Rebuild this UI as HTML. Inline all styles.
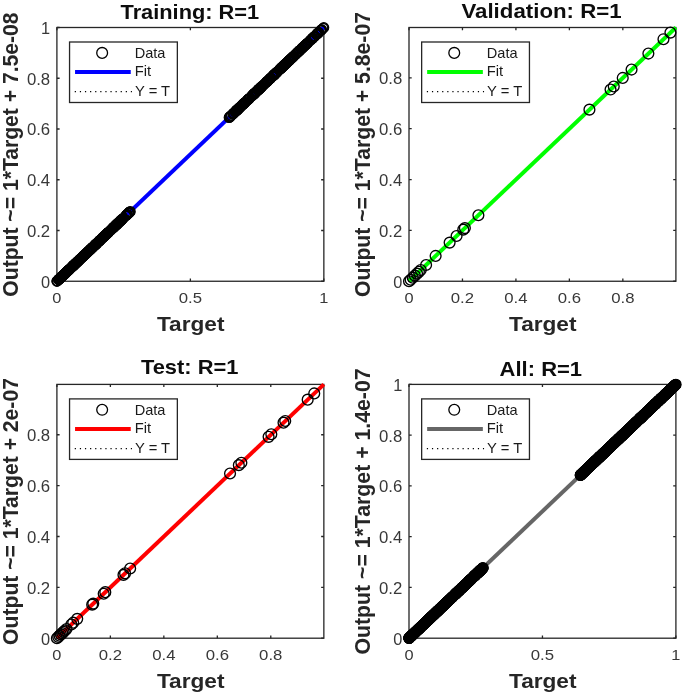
<!DOCTYPE html>
<html lang="en"><head><meta charset="utf-8"><title>Regression</title>
<style>
html,body{margin:0;padding:0;background:#fff;}
body{width:685px;height:695px;overflow:hidden;}
svg{display:block;filter:blur(0.4px);}
text{font-family:"Liberation Sans", sans-serif;}
.tk{font-size:16px;fill:#383838;}
.tx{font-size:15.2px;}
.lg{font-size:14.2px;fill:#1a1a1a;}
.bd{font-size:21px;font-weight:bold;fill:#262626;}
.tt{fill:#0d0d0d;}
.ax{stroke:#262626;stroke-width:1.3;fill:none;}
.mk{stroke:#000;stroke-width:1.5;fill:none;}
</style></head><body>
<svg width="685" height="695" viewBox="0 0 685 695">
<rect width="685" height="695" fill="#fff"/>
<g id="training">
<rect class="ax" x="56.9" y="27.5" width="266.95" height="253.75"/>
<path class="ax" d="M56.9 281.25v-2.7M56.9 27.5v2.7M190.38 281.25v-2.7M190.38 27.5v2.7M323.85 281.25v-2.7M323.85 27.5v2.7M56.9 281.25h2.7M323.85 281.25h-2.7M56.9 230.5h2.7M323.85 230.5h-2.7M56.9 179.75h2.7M323.85 179.75h-2.7M56.9 129h2.7M323.85 129h-2.7M56.9 78.25h2.7M323.85 78.25h-2.7M56.9 27.5h2.7M323.85 27.5h-2.7"/>
<text class="tk tx" x="56.9" y="302.95" text-anchor="middle" textLength="9.1" lengthAdjust="spacingAndGlyphs">0</text>
<text class="tk tx" x="190.38" y="302.95" text-anchor="middle" textLength="23.3" lengthAdjust="spacingAndGlyphs">0.5</text>
<text class="tk tx" x="323.85" y="302.95" text-anchor="middle" textLength="9.1" lengthAdjust="spacingAndGlyphs">1</text>
<text class="tk" x="50.2" y="287.65" text-anchor="end" textLength="9.1" lengthAdjust="spacingAndGlyphs">0</text>
<text class="tk" x="50.2" y="236.9" text-anchor="end" textLength="23.3" lengthAdjust="spacingAndGlyphs">0.2</text>
<text class="tk" x="50.2" y="186.15" text-anchor="end" textLength="23.3" lengthAdjust="spacingAndGlyphs">0.4</text>
<text class="tk" x="50.2" y="135.4" text-anchor="end" textLength="23.3" lengthAdjust="spacingAndGlyphs">0.6</text>
<text class="tk" x="50.2" y="84.65" text-anchor="end" textLength="23.3" lengthAdjust="spacingAndGlyphs">0.8</text>
<text class="tk" x="50.2" y="33.9" text-anchor="end" textLength="9.1" lengthAdjust="spacingAndGlyphs">1</text>
<text class="bd tt" x="189.88" y="19" text-anchor="middle" textLength="138.7" lengthAdjust="spacingAndGlyphs">Training: R=1</text>
<text class="bd" x="190.68" y="331.05" text-anchor="middle" textLength="67.5" lengthAdjust="spacingAndGlyphs">Target</text>
<text class="bd" transform="translate(17.9 154.57) scale(1.05 1) rotate(-90)" text-anchor="middle" textLength="284.3" lengthAdjust="spacingAndGlyphs">Output ~= 1*Target + 7.5e-08</text>
<line x1="56.9" y1="281.25" x2="323.85" y2="27.5" stroke="#000" stroke-width="1" stroke-dasharray="1 4"/>
<line x1="56.9" y1="281.25" x2="323.85" y2="27.5" stroke="#0000ff" stroke-width="4.0"/>
<g class="mk" stroke-width="1.5" style="stroke-width:1.5">
<circle cx="56.9" cy="281.25" r="4.7"/><circle cx="56.92" cy="281.23" r="4.7"/><circle cx="57.2" cy="280.96" r="4.7"/><circle cx="58.56" cy="279.68" r="4.7"/><circle cx="58.6" cy="279.64" r="4.7"/><circle cx="58.77" cy="279.47" r="4.7"/><circle cx="58.89" cy="279.36" r="4.7"/><circle cx="58.95" cy="279.3" r="4.7"/><circle cx="59.03" cy="279.23" r="4.7"/><circle cx="59.65" cy="278.63" r="4.7"/><circle cx="59.78" cy="278.51" r="4.7"/><circle cx="60.32" cy="278" r="4.7"/><circle cx="60.76" cy="277.58" r="4.7"/><circle cx="60.86" cy="277.48" r="4.7"/><circle cx="61.16" cy="277.2" r="4.7"/><circle cx="61.23" cy="277.14" r="4.7"/><circle cx="61.28" cy="277.09" r="4.7"/><circle cx="61.35" cy="277.02" r="4.7"/><circle cx="61.47" cy="276.91" r="4.7"/><circle cx="61.51" cy="276.87" r="4.7"/><circle cx="61.84" cy="276.55" r="4.7"/><circle cx="62.03" cy="276.38" r="4.7"/><circle cx="62.22" cy="276.2" r="4.7"/><circle cx="62.82" cy="275.63" r="4.7"/><circle cx="63.2" cy="275.26" r="4.7"/><circle cx="63.56" cy="274.92" r="4.7"/><circle cx="64.35" cy="274.17" r="4.7"/><circle cx="64.4" cy="274.12" r="4.7"/><circle cx="64.5" cy="274.03" r="4.7"/><circle cx="65.5" cy="273.08" r="4.7"/><circle cx="65.55" cy="273.03" r="4.7"/><circle cx="65.57" cy="273.01" r="4.7"/><circle cx="65.92" cy="272.68" r="4.7"/><circle cx="65.99" cy="272.61" r="4.7"/><circle cx="66.4" cy="272.22" r="4.7"/><circle cx="67.49" cy="271.18" r="4.7"/><circle cx="67.66" cy="271.02" r="4.7"/><circle cx="67.81" cy="270.88" r="4.7"/><circle cx="67.97" cy="270.72" r="4.7"/><circle cx="67.98" cy="270.72" r="4.7"/><circle cx="68" cy="270.69" r="4.7"/><circle cx="68.06" cy="270.64" r="4.7"/><circle cx="68.75" cy="269.98" r="4.7"/><circle cx="68.81" cy="269.92" r="4.7"/><circle cx="69.16" cy="269.59" r="4.7"/><circle cx="69.24" cy="269.52" r="4.7"/><circle cx="69.84" cy="268.95" r="4.7"/><circle cx="70.17" cy="268.64" r="4.7"/><circle cx="71.34" cy="267.52" r="4.7"/><circle cx="71.9" cy="266.99" r="4.7"/><circle cx="72.02" cy="266.88" r="4.7"/><circle cx="72.23" cy="266.68" r="4.7"/><circle cx="73.08" cy="265.87" r="4.7"/><circle cx="73.27" cy="265.69" r="4.7"/><circle cx="73.29" cy="265.67" r="4.7"/><circle cx="73.55" cy="265.43" r="4.7"/><circle cx="73.55" cy="265.42" r="4.7"/><circle cx="73.93" cy="265.06" r="4.7"/><circle cx="74.03" cy="264.97" r="4.7"/><circle cx="74.82" cy="264.22" r="4.7"/><circle cx="75.08" cy="263.97" r="4.7"/><circle cx="75.42" cy="263.65" r="4.7"/><circle cx="75.93" cy="263.16" r="4.7"/><circle cx="76.07" cy="263.03" r="4.7"/><circle cx="76.19" cy="262.92" r="4.7"/><circle cx="76.34" cy="262.77" r="4.7"/><circle cx="77.34" cy="261.82" r="4.7"/><circle cx="77.41" cy="261.75" r="4.7"/><circle cx="77.79" cy="261.39" r="4.7"/><circle cx="78.04" cy="261.16" r="4.7"/><circle cx="78.16" cy="261.04" r="4.7"/><circle cx="78.91" cy="260.33" r="4.7"/><circle cx="79.55" cy="259.72" r="4.7"/><circle cx="79.93" cy="259.36" r="4.7"/><circle cx="79.96" cy="259.33" r="4.7"/><circle cx="80.67" cy="258.65" r="4.7"/><circle cx="81.1" cy="258.25" r="4.7"/><circle cx="81.86" cy="257.52" r="4.7"/><circle cx="82.05" cy="257.34" r="4.7"/><circle cx="82.4" cy="257.01" r="4.7"/><circle cx="83" cy="256.44" r="4.7"/><circle cx="83.24" cy="256.21" r="4.7"/><circle cx="83.59" cy="255.88" r="4.7"/><circle cx="83.63" cy="255.84" r="4.7"/><circle cx="83.67" cy="255.81" r="4.7"/><circle cx="83.75" cy="255.73" r="4.7"/><circle cx="83.82" cy="255.66" r="4.7"/><circle cx="84.01" cy="255.48" r="4.7"/><circle cx="84.24" cy="255.26" r="4.7"/><circle cx="85.22" cy="254.33" r="4.7"/><circle cx="85.6" cy="253.97" r="4.7"/><circle cx="85.71" cy="253.87" r="4.7"/><circle cx="86.02" cy="253.57" r="4.7"/><circle cx="86.19" cy="253.41" r="4.7"/><circle cx="87.39" cy="252.27" r="4.7"/><circle cx="87.59" cy="252.07" r="4.7"/><circle cx="87.66" cy="252.02" r="4.7"/><circle cx="88.06" cy="251.63" r="4.7"/><circle cx="88.29" cy="251.41" r="4.7"/><circle cx="88.73" cy="250.99" r="4.7"/><circle cx="89.73" cy="250.04" r="4.7"/><circle cx="89.88" cy="249.91" r="4.7"/><circle cx="90.17" cy="249.63" r="4.7"/><circle cx="90.39" cy="249.42" r="4.7"/><circle cx="90.79" cy="249.03" r="4.7"/><circle cx="91.11" cy="248.73" r="4.7"/><circle cx="91.7" cy="248.17" r="4.7"/><circle cx="92.1" cy="247.79" r="4.7"/><circle cx="92.42" cy="247.49" r="4.7"/><circle cx="92.5" cy="247.41" r="4.7"/><circle cx="92.8" cy="247.13" r="4.7"/><circle cx="94.15" cy="245.84" r="4.7"/><circle cx="94.74" cy="245.28" r="4.7"/><circle cx="94.9" cy="245.13" r="4.7"/><circle cx="95.46" cy="244.6" r="4.7"/><circle cx="95.67" cy="244.4" r="4.7"/><circle cx="95.68" cy="244.39" r="4.7"/><circle cx="96" cy="244.09" r="4.7"/><circle cx="96.24" cy="243.86" r="4.7"/><circle cx="96.77" cy="243.35" r="4.7"/><circle cx="97.11" cy="243.03" r="4.7"/><circle cx="97.24" cy="242.91" r="4.7"/><circle cx="98.48" cy="241.73" r="4.7"/><circle cx="98.97" cy="241.26" r="4.7"/><circle cx="99.07" cy="241.17" r="4.7"/><circle cx="99.27" cy="240.98" r="4.7"/><circle cx="99.47" cy="240.78" r="4.7"/><circle cx="99.6" cy="240.67" r="4.7"/><circle cx="99.89" cy="240.39" r="4.7"/><circle cx="100.15" cy="240.14" r="4.7"/><circle cx="100.53" cy="239.77" r="4.7"/><circle cx="101.98" cy="238.4" r="4.7"/><circle cx="102.24" cy="238.15" r="4.7"/><circle cx="102.71" cy="237.7" r="4.7"/><circle cx="102.96" cy="237.47" r="4.7"/><circle cx="103.46" cy="236.99" r="4.7"/><circle cx="103.8" cy="236.67" r="4.7"/><circle cx="104.41" cy="236.09" r="4.7"/><circle cx="104.69" cy="235.83" r="4.7"/><circle cx="104.84" cy="235.68" r="4.7"/><circle cx="105.66" cy="234.9" r="4.7"/><circle cx="105.95" cy="234.62" r="4.7"/><circle cx="105.99" cy="234.59" r="4.7"/><circle cx="106.54" cy="234.06" r="4.7"/><circle cx="106.85" cy="233.77" r="4.7"/><circle cx="107.59" cy="233.07" r="4.7"/><circle cx="107.74" cy="232.92" r="4.7"/><circle cx="107.94" cy="232.73" r="4.7"/><circle cx="108.01" cy="232.67" r="4.7"/><circle cx="108.21" cy="232.47" r="4.7"/><circle cx="108.4" cy="232.3" r="4.7"/><circle cx="110.45" cy="230.35" r="4.7"/><circle cx="111.22" cy="229.62" r="4.7"/><circle cx="112.48" cy="228.42" r="4.7"/><circle cx="113.03" cy="227.9" r="4.7"/><circle cx="113.3" cy="227.64" r="4.7"/><circle cx="113.57" cy="227.38" r="4.7"/><circle cx="114.09" cy="226.89" r="4.7"/><circle cx="114.16" cy="226.82" r="4.7"/><circle cx="115.22" cy="225.82" r="4.7"/><circle cx="115.47" cy="225.57" r="4.7"/><circle cx="115.6" cy="225.45" r="4.7"/><circle cx="116.08" cy="225" r="4.7"/><circle cx="116.47" cy="224.62" r="4.7"/><circle cx="116.81" cy="224.3" r="4.7"/><circle cx="116.97" cy="224.15" r="4.7"/><circle cx="117.04" cy="224.08" r="4.7"/><circle cx="117.24" cy="223.9" r="4.7"/><circle cx="117.6" cy="223.55" r="4.7"/><circle cx="117.75" cy="223.41" r="4.7"/><circle cx="118.56" cy="222.64" r="4.7"/><circle cx="118.6" cy="222.6" r="4.7"/><circle cx="119.22" cy="222.01" r="4.7"/><circle cx="119.49" cy="221.75" r="4.7"/><circle cx="119.92" cy="221.34" r="4.7"/><circle cx="120.28" cy="221.01" r="4.7"/><circle cx="120.33" cy="220.96" r="4.7"/><circle cx="120.87" cy="220.44" r="4.7"/><circle cx="121.09" cy="220.24" r="4.7"/><circle cx="121.1" cy="220.23" r="4.7"/><circle cx="121.14" cy="220.18" r="4.7"/><circle cx="121.17" cy="220.16" r="4.7"/><circle cx="121.75" cy="219.61" r="4.7"/><circle cx="121.81" cy="219.55" r="4.7"/><circle cx="122.94" cy="218.48" r="4.7"/><circle cx="122.99" cy="218.43" r="4.7"/><circle cx="125.69" cy="215.86" r="4.7"/><circle cx="126.25" cy="215.33" r="4.7"/><circle cx="126.47" cy="215.12" r="4.7"/><circle cx="126.71" cy="214.89" r="4.7"/><circle cx="126.87" cy="214.74" r="4.7"/><circle cx="127.01" cy="214.61" r="4.7"/><circle cx="127.12" cy="214.5" r="4.7"/><circle cx="127.21" cy="214.42" r="4.7"/><circle cx="128.57" cy="213.13" r="4.7"/><circle cx="128.73" cy="212.97" r="4.7"/><circle cx="128.86" cy="212.85" r="4.7"/><circle cx="129.2" cy="212.52" r="4.7"/><circle cx="129.43" cy="212.3" r="4.7"/><circle cx="129.8" cy="211.95" r="4.7"/><circle cx="129.8" cy="211.95" r="4.7"/><circle cx="130.31" cy="211.47" r="4.7"/><circle cx="229.08" cy="117.58" r="4.7"/><circle cx="229.31" cy="117.37" r="4.7"/><circle cx="229.9" cy="116.8" r="4.7"/><circle cx="230.12" cy="116.59" r="4.7"/><circle cx="230.16" cy="116.56" r="4.7"/><circle cx="230.2" cy="116.52" r="4.7"/><circle cx="231.35" cy="115.42" r="4.7"/><circle cx="232.77" cy="114.07" r="4.7"/><circle cx="233.25" cy="113.62" r="4.7"/><circle cx="233.28" cy="113.59" r="4.7"/><circle cx="233.95" cy="112.96" r="4.7"/><circle cx="235.1" cy="111.86" r="4.7"/><circle cx="235.17" cy="111.79" r="4.7"/><circle cx="236.06" cy="110.95" r="4.7"/><circle cx="236.37" cy="110.65" r="4.7"/><circle cx="236.52" cy="110.51" r="4.7"/><circle cx="236.6" cy="110.44" r="4.7"/><circle cx="236.61" cy="110.43" r="4.7"/><circle cx="236.95" cy="110.1" r="4.7"/><circle cx="237.29" cy="109.78" r="4.7"/><circle cx="237.47" cy="109.61" r="4.7"/><circle cx="237.76" cy="109.34" r="4.7"/><circle cx="237.95" cy="109.16" r="4.7"/><circle cx="238.35" cy="108.77" r="4.7"/><circle cx="238.84" cy="108.31" r="4.7"/><circle cx="238.97" cy="108.18" r="4.7"/><circle cx="239.33" cy="107.84" r="4.7"/><circle cx="239.59" cy="107.59" r="4.7"/><circle cx="240.32" cy="106.9" r="4.7"/><circle cx="241.2" cy="106.07" r="4.7"/><circle cx="241.69" cy="105.6" r="4.7"/><circle cx="242.89" cy="104.46" r="4.7"/><circle cx="242.89" cy="104.45" r="4.7"/><circle cx="243.34" cy="104.02" r="4.7"/><circle cx="243.54" cy="103.84" r="4.7"/><circle cx="243.93" cy="103.47" r="4.7"/><circle cx="243.97" cy="103.43" r="4.7"/><circle cx="243.98" cy="103.42" r="4.7"/><circle cx="244.32" cy="103.09" r="4.7"/><circle cx="244.6" cy="102.83" r="4.7"/><circle cx="244.98" cy="102.47" r="4.7"/><circle cx="245.9" cy="101.6" r="4.7"/><circle cx="247.36" cy="100.2" r="4.7"/><circle cx="247.79" cy="99.8" r="4.7"/><circle cx="248.11" cy="99.5" r="4.7"/><circle cx="248.17" cy="99.44" r="4.7"/><circle cx="248.55" cy="99.08" r="4.7"/><circle cx="249.19" cy="98.46" r="4.7"/><circle cx="249.39" cy="98.28" r="4.7"/><circle cx="251.8" cy="95.99" r="4.7"/><circle cx="251.94" cy="95.85" r="4.7"/><circle cx="252.12" cy="95.68" r="4.7"/><circle cx="253.13" cy="94.72" r="4.7"/><circle cx="253.22" cy="94.63" r="4.7"/><circle cx="253.32" cy="94.54" r="4.7"/><circle cx="253.85" cy="94.04" r="4.7"/><circle cx="253.98" cy="93.91" r="4.7"/><circle cx="254.34" cy="93.57" r="4.7"/><circle cx="254.36" cy="93.55" r="4.7"/><circle cx="254.46" cy="93.46" r="4.7"/><circle cx="254.52" cy="93.4" r="4.7"/><circle cx="255.04" cy="92.9" r="4.7"/><circle cx="255.38" cy="92.59" r="4.7"/><circle cx="256.26" cy="91.75" r="4.7"/><circle cx="256.52" cy="91.5" r="4.7"/><circle cx="256.52" cy="91.5" r="4.7"/><circle cx="257.05" cy="91" r="4.7"/><circle cx="257.87" cy="90.21" r="4.7"/><circle cx="258.1" cy="90" r="4.7"/><circle cx="258.22" cy="89.88" r="4.7"/><circle cx="258.48" cy="89.64" r="4.7"/><circle cx="258.48" cy="89.63" r="4.7"/><circle cx="258.68" cy="89.45" r="4.7"/><circle cx="258.83" cy="89.3" r="4.7"/><circle cx="259.13" cy="89.02" r="4.7"/><circle cx="259.31" cy="88.85" r="4.7"/><circle cx="259.61" cy="88.57" r="4.7"/><circle cx="259.69" cy="88.49" r="4.7"/><circle cx="260.57" cy="87.65" r="4.7"/><circle cx="260.88" cy="87.35" r="4.7"/><circle cx="260.96" cy="87.28" r="4.7"/><circle cx="261.02" cy="87.22" r="4.7"/><circle cx="261.2" cy="87.06" r="4.7"/><circle cx="261.24" cy="87.01" r="4.7"/><circle cx="261.32" cy="86.94" r="4.7"/><circle cx="262.56" cy="85.76" r="4.7"/><circle cx="262.74" cy="85.59" r="4.7"/><circle cx="264.24" cy="84.16" r="4.7"/><circle cx="264.89" cy="83.54" r="4.7"/><circle cx="266.37" cy="82.14" r="4.7"/><circle cx="266.81" cy="81.72" r="4.7"/><circle cx="266.98" cy="81.56" r="4.7"/><circle cx="267" cy="81.54" r="4.7"/><circle cx="267.51" cy="81.06" r="4.7"/><circle cx="268.84" cy="79.79" r="4.7"/><circle cx="269.21" cy="79.43" r="4.7"/><circle cx="270.18" cy="78.51" r="4.7"/><circle cx="270.53" cy="78.18" r="4.7"/><circle cx="270.68" cy="78.04" r="4.7"/><circle cx="270.7" cy="78.02" r="4.7"/><circle cx="272.14" cy="76.66" r="4.7"/><circle cx="272.7" cy="76.12" r="4.7"/><circle cx="273.41" cy="75.45" r="4.7"/><circle cx="273.79" cy="75.08" r="4.7"/><circle cx="273.98" cy="74.9" r="4.7"/><circle cx="274.08" cy="74.81" r="4.7"/><circle cx="274.1" cy="74.79" r="4.7"/><circle cx="274.33" cy="74.57" r="4.7"/><circle cx="274.37" cy="74.53" r="4.7"/><circle cx="274.95" cy="73.98" r="4.7"/><circle cx="275.05" cy="73.89" r="4.7"/><circle cx="275.37" cy="73.58" r="4.7"/><circle cx="276.09" cy="72.9" r="4.7"/><circle cx="276.5" cy="72.51" r="4.7"/><circle cx="276.52" cy="72.49" r="4.7"/><circle cx="276.86" cy="72.17" r="4.7"/><circle cx="277.29" cy="71.75" r="4.7"/><circle cx="279.12" cy="70.02" r="4.7"/><circle cx="279.39" cy="69.76" r="4.7"/><circle cx="279.75" cy="69.42" r="4.7"/><circle cx="280.57" cy="68.64" r="4.7"/><circle cx="280.98" cy="68.25" r="4.7"/><circle cx="281.02" cy="68.22" r="4.7"/><circle cx="281.3" cy="67.95" r="4.7"/><circle cx="281.31" cy="67.93" r="4.7"/><circle cx="281.39" cy="67.86" r="4.7"/><circle cx="281.45" cy="67.8" r="4.7"/><circle cx="281.75" cy="67.51" r="4.7"/><circle cx="282.67" cy="66.65" r="4.7"/><circle cx="283.12" cy="66.22" r="4.7"/><circle cx="283.16" cy="66.18" r="4.7"/><circle cx="283.22" cy="66.12" r="4.7"/><circle cx="283.42" cy="65.93" r="4.7"/><circle cx="283.75" cy="65.62" r="4.7"/><circle cx="284.61" cy="64.8" r="4.7"/><circle cx="284.81" cy="64.61" r="4.7"/><circle cx="284.85" cy="64.57" r="4.7"/><circle cx="284.85" cy="64.57" r="4.7"/><circle cx="285.35" cy="64.1" r="4.7"/><circle cx="285.62" cy="63.84" r="4.7"/><circle cx="285.9" cy="63.58" r="4.7"/><circle cx="286.48" cy="63.03" r="4.7"/><circle cx="286.48" cy="63.03" r="4.7"/><circle cx="287.05" cy="62.48" r="4.7"/><circle cx="287.16" cy="62.38" r="4.7"/><circle cx="288.36" cy="61.24" r="4.7"/><circle cx="288.51" cy="61.09" r="4.7"/><circle cx="288.63" cy="60.98" r="4.7"/><circle cx="288.97" cy="60.66" r="4.7"/><circle cx="289.12" cy="60.51" r="4.7"/><circle cx="289.18" cy="60.45" r="4.7"/><circle cx="289.61" cy="60.05" r="4.7"/><circle cx="289.82" cy="59.85" r="4.7"/><circle cx="290.45" cy="59.25" r="4.7"/><circle cx="290.57" cy="59.14" r="4.7"/><circle cx="291.31" cy="58.43" r="4.7"/><circle cx="291.33" cy="58.41" r="4.7"/><circle cx="292.06" cy="57.72" r="4.7"/><circle cx="292.51" cy="57.29" r="4.7"/><circle cx="293.13" cy="56.71" r="4.7"/><circle cx="293.56" cy="56.29" r="4.7"/><circle cx="294.02" cy="55.86" r="4.7"/><circle cx="295.39" cy="54.55" r="4.7"/><circle cx="295.84" cy="54.13" r="4.7"/><circle cx="296.49" cy="53.51" r="4.7"/><circle cx="297.31" cy="52.72" r="4.7"/><circle cx="297.88" cy="52.19" r="4.7"/><circle cx="298.14" cy="51.94" r="4.7"/><circle cx="299.15" cy="50.98" r="4.7"/><circle cx="299.28" cy="50.85" r="4.7"/><circle cx="299.45" cy="50.7" r="4.7"/><circle cx="299.47" cy="50.68" r="4.7"/><circle cx="301.17" cy="49.06" r="4.7"/><circle cx="301.6" cy="48.65" r="4.7"/><circle cx="302.37" cy="47.92" r="4.7"/><circle cx="302.63" cy="47.67" r="4.7"/><circle cx="303.44" cy="46.9" r="4.7"/><circle cx="304.22" cy="46.16" r="4.7"/><circle cx="304.98" cy="45.44" r="4.7"/><circle cx="305.17" cy="45.26" r="4.7"/><circle cx="305.41" cy="45.02" r="4.7"/><circle cx="306.17" cy="44.31" r="4.7"/><circle cx="307.07" cy="43.45" r="4.7"/><circle cx="307.15" cy="43.38" r="4.7"/><circle cx="307.8" cy="42.75" r="4.7"/><circle cx="310.19" cy="40.49" r="4.7"/><circle cx="310.25" cy="40.43" r="4.7"/><circle cx="312.18" cy="38.59" r="4.7"/><circle cx="312.2" cy="38.58" r="4.7"/><circle cx="312.65" cy="38.14" r="4.7"/><circle cx="312.89" cy="37.92" r="4.7"/><circle cx="313.87" cy="36.98" r="4.7"/><circle cx="314.17" cy="36.7" r="4.7"/><circle cx="314.86" cy="36.04" r="4.7"/><circle cx="316.44" cy="34.55" r="4.7"/><circle cx="317.08" cy="33.93" r="4.7"/><circle cx="317.58" cy="33.46" r="4.7"/><circle cx="317.67" cy="33.38" r="4.7"/><circle cx="318.48" cy="32.61" r="4.7"/><circle cx="318.72" cy="32.37" r="4.7"/><circle cx="320.83" cy="30.37" r="4.7"/><circle cx="321.11" cy="30.11" r="4.7"/><circle cx="321.41" cy="29.82" r="4.7"/><circle cx="321.55" cy="29.69" r="4.7"/><circle cx="323.19" cy="28.12" r="4.7"/><circle cx="323.85" cy="27.5" r="4.7"/>
</g>
<g transform="translate(69.55 42)">
<rect class="ax" x="0" y="0" width="107.8" height="60.5" fill="#fff" style="fill:#fff"/>
<circle class="mk" cx="32.6" cy="10.9" r="5.4" style="stroke-width:1.3"/>
<line x1="5.5" y1="30.1" x2="61.2" y2="30.1" stroke="#0000ff" stroke-width="4.0"/>
<line x1="5.2" y1="49.7" x2="62.4" y2="49.7" stroke="#000" stroke-width="1.2" stroke-dasharray="1.2 3.9"/>
<text class="lg" x="65.1" y="15.8" textLength="30.8" lengthAdjust="spacingAndGlyphs">Data</text>
<text class="lg" x="65.1" y="34.3" textLength="16.4" lengthAdjust="spacingAndGlyphs">Fit</text>
<text class="lg" x="65.4" y="54.2" textLength="35.2" lengthAdjust="spacingAndGlyphs">Y = T</text>
</g>
</g>
<g id="validation">
<rect class="ax" x="409" y="27.5" width="266.9" height="253.75"/>
<path class="ax" d="M409 281.25v-2.7M409 27.5v2.7M462.46 281.25v-2.7M462.46 27.5v2.7M515.92 281.25v-2.7M515.92 27.5v2.7M569.38 281.25v-2.7M569.38 27.5v2.7M622.84 281.25v-2.7M622.84 27.5v2.7M409 281.25h2.7M675.9 281.25h-2.7M409 230.4h2.7M675.9 230.4h-2.7M409 179.55h2.7M675.9 179.55h-2.7M409 128.69h2.7M675.9 128.69h-2.7M409 77.84h2.7M675.9 77.84h-2.7"/>
<text class="tk tx" x="409" y="302.95" text-anchor="middle" textLength="9.1" lengthAdjust="spacingAndGlyphs">0</text>
<text class="tk tx" x="462.46" y="302.95" text-anchor="middle" textLength="23.3" lengthAdjust="spacingAndGlyphs">0.2</text>
<text class="tk tx" x="515.92" y="302.95" text-anchor="middle" textLength="23.3" lengthAdjust="spacingAndGlyphs">0.4</text>
<text class="tk tx" x="569.38" y="302.95" text-anchor="middle" textLength="23.3" lengthAdjust="spacingAndGlyphs">0.6</text>
<text class="tk tx" x="622.84" y="302.95" text-anchor="middle" textLength="23.3" lengthAdjust="spacingAndGlyphs">0.8</text>
<text class="tk" x="402.3" y="287.65" text-anchor="end" textLength="9.1" lengthAdjust="spacingAndGlyphs">0</text>
<text class="tk" x="402.3" y="236.8" text-anchor="end" textLength="23.3" lengthAdjust="spacingAndGlyphs">0.2</text>
<text class="tk" x="402.3" y="185.95" text-anchor="end" textLength="23.3" lengthAdjust="spacingAndGlyphs">0.4</text>
<text class="tk" x="402.3" y="135.09" text-anchor="end" textLength="23.3" lengthAdjust="spacingAndGlyphs">0.6</text>
<text class="tk" x="402.3" y="84.24" text-anchor="end" textLength="23.3" lengthAdjust="spacingAndGlyphs">0.8</text>
<text class="bd tt" x="541.55" y="17.7" text-anchor="middle" textLength="160.2" lengthAdjust="spacingAndGlyphs">Validation: R=1</text>
<text class="bd" x="542.75" y="331.05" text-anchor="middle" textLength="67.5" lengthAdjust="spacingAndGlyphs">Target</text>
<text class="bd" transform="translate(370 154.57) scale(1.05 1) rotate(-90)" text-anchor="middle" textLength="285" lengthAdjust="spacingAndGlyphs">Output ~= 1*Target + 5.8e-07</text>
<line x1="409" y1="281.25" x2="675.9" y2="27.5" stroke="#000" stroke-width="1" stroke-dasharray="1 4"/>
<line x1="409" y1="281.25" x2="675.9" y2="27.5" stroke="#00ff00" stroke-width="4.0"/>
<g class="mk" stroke-width="1.35" style="stroke-width:1.35">
<circle cx="409" cy="281.25" r="5.4"/><circle cx="410.6" cy="279.72" r="5.4"/><circle cx="412.74" cy="277.69" r="5.4"/><circle cx="414.88" cy="275.66" r="5.4"/><circle cx="417.02" cy="273.62" r="5.4"/><circle cx="418.89" cy="271.84" r="5.4"/><circle cx="420.76" cy="270.06" r="5.4"/><circle cx="426.11" cy="264.98" r="5.4"/><circle cx="435.62" cy="255.93" r="5.4"/><circle cx="449.63" cy="242.6" r="5.4"/><circle cx="456.58" cy="235.99" r="5.4"/><circle cx="463.26" cy="229.64" r="5.4"/><circle cx="464.87" cy="228.11" r="5.4"/><circle cx="478.39" cy="215.24" r="5.4"/><circle cx="589.43" cy="109.63" r="5.4"/><circle cx="610.54" cy="89.54" r="5.4"/><circle cx="613.75" cy="86.49" r="5.4"/><circle cx="622.73" cy="77.94" r="5.4"/><circle cx="631.55" cy="69.55" r="5.4"/><circle cx="648.37" cy="53.56" r="5.4"/><circle cx="663.47" cy="39.2" r="5.4"/><circle cx="670.42" cy="32.59" r="5.4"/>
</g>
<g transform="translate(421.65 42)">
<rect class="ax" x="0" y="0" width="107.8" height="60.5" fill="#fff" style="fill:#fff"/>
<circle class="mk" cx="32.6" cy="10.9" r="5.4" style="stroke-width:1.3"/>
<line x1="5.5" y1="30.1" x2="61.2" y2="30.1" stroke="#00ff00" stroke-width="4.0"/>
<line x1="5.2" y1="49.7" x2="62.4" y2="49.7" stroke="#000" stroke-width="1.2" stroke-dasharray="1.2 3.9"/>
<text class="lg" x="65.1" y="15.8" textLength="30.8" lengthAdjust="spacingAndGlyphs">Data</text>
<text class="lg" x="65.1" y="34.3" textLength="16.4" lengthAdjust="spacingAndGlyphs">Fit</text>
<text class="lg" x="65.4" y="54.2" textLength="35.2" lengthAdjust="spacingAndGlyphs">Y = T</text>
</g>
</g>
<g id="test">
<rect class="ax" x="56.9" y="384.4" width="266.95" height="253.8"/>
<path class="ax" d="M56.9 638.2v-2.7M56.9 384.4v2.7M110.37 638.2v-2.7M110.37 384.4v2.7M163.84 638.2v-2.7M163.84 384.4v2.7M217.31 638.2v-2.7M217.31 384.4v2.7M270.78 638.2v-2.7M270.78 384.4v2.7M56.9 638.2h2.7M323.85 638.2h-2.7M56.9 587.34h2.7M323.85 587.34h-2.7M56.9 536.48h2.7M323.85 536.48h-2.7M56.9 485.61h2.7M323.85 485.61h-2.7M56.9 434.75h2.7M323.85 434.75h-2.7"/>
<text class="tk tx" x="56.9" y="659.9" text-anchor="middle" textLength="9.1" lengthAdjust="spacingAndGlyphs">0</text>
<text class="tk tx" x="110.37" y="659.9" text-anchor="middle" textLength="23.3" lengthAdjust="spacingAndGlyphs">0.2</text>
<text class="tk tx" x="163.84" y="659.9" text-anchor="middle" textLength="23.3" lengthAdjust="spacingAndGlyphs">0.4</text>
<text class="tk tx" x="217.31" y="659.9" text-anchor="middle" textLength="23.3" lengthAdjust="spacingAndGlyphs">0.6</text>
<text class="tk tx" x="270.78" y="659.9" text-anchor="middle" textLength="23.3" lengthAdjust="spacingAndGlyphs">0.8</text>
<text class="tk" x="50.2" y="644.6" text-anchor="end" textLength="9.1" lengthAdjust="spacingAndGlyphs">0</text>
<text class="tk" x="50.2" y="593.74" text-anchor="end" textLength="23.3" lengthAdjust="spacingAndGlyphs">0.2</text>
<text class="tk" x="50.2" y="542.88" text-anchor="end" textLength="23.3" lengthAdjust="spacingAndGlyphs">0.4</text>
<text class="tk" x="50.2" y="492.01" text-anchor="end" textLength="23.3" lengthAdjust="spacingAndGlyphs">0.6</text>
<text class="tk" x="50.2" y="441.15" text-anchor="end" textLength="23.3" lengthAdjust="spacingAndGlyphs">0.8</text>
<text class="bd tt" x="189.68" y="374.3" text-anchor="middle" textLength="97.5" lengthAdjust="spacingAndGlyphs">Test: R=1</text>
<text class="bd" x="190.68" y="688" text-anchor="middle" textLength="67.5" lengthAdjust="spacingAndGlyphs">Target</text>
<text class="bd" transform="translate(17.9 511.5) scale(1.05 1) rotate(-90)" text-anchor="middle" textLength="266.8" lengthAdjust="spacingAndGlyphs">Output ~= 1*Target + 2e-07</text>
<line x1="56.9" y1="638.2" x2="323.85" y2="384.4" stroke="#000" stroke-width="1" stroke-dasharray="1 4"/>
<line x1="56.9" y1="638.2" x2="323.85" y2="384.4" stroke="#ff0000" stroke-width="4.0"/>
<g class="mk" stroke-width="1.35" style="stroke-width:1.35">
<circle cx="56.9" cy="638.2" r="5.4"/><circle cx="58.24" cy="636.93" r="5.4"/><circle cx="59.57" cy="635.66" r="5.4"/><circle cx="60.91" cy="634.39" r="5.4"/><circle cx="62.25" cy="633.11" r="5.4"/><circle cx="63.58" cy="631.84" r="5.4"/><circle cx="64.92" cy="630.57" r="5.4"/><circle cx="66.52" cy="629.04" r="5.4"/><circle cx="71.34" cy="624.47" r="5.4"/><circle cx="73.21" cy="622.69" r="5.4"/><circle cx="77.22" cy="618.87" r="5.4"/><circle cx="92.19" cy="604.63" r="5.4"/><circle cx="93.26" cy="603.61" r="5.4"/><circle cx="103.69" cy="593.7" r="5.4"/><circle cx="105.29" cy="592.17" r="5.4"/><circle cx="123.47" cy="574.88" r="5.4"/><circle cx="125.07" cy="573.35" r="5.4"/><circle cx="130.15" cy="568.52" r="5.4"/><circle cx="230.04" cy="473.51" r="5.4"/><circle cx="238.83" cy="465.14" r="5.4"/><circle cx="241.37" cy="462.73" r="5.4"/><circle cx="268.59" cy="436.84" r="5.4"/><circle cx="271.32" cy="434.24" r="5.4"/><circle cx="283.51" cy="422.65" r="5.4"/><circle cx="285.22" cy="421.02" r="5.4"/><circle cx="307.68" cy="399.66" r="5.4"/><circle cx="314.23" cy="393.43" r="5.4"/>
</g>
<g transform="translate(69.55 398.9)">
<rect class="ax" x="0" y="0" width="107.8" height="60.5" fill="#fff" style="fill:#fff"/>
<circle class="mk" cx="32.6" cy="10.9" r="5.4" style="stroke-width:1.3"/>
<line x1="5.5" y1="30.1" x2="61.2" y2="30.1" stroke="#ff0000" stroke-width="4.0"/>
<line x1="5.2" y1="49.7" x2="62.4" y2="49.7" stroke="#000" stroke-width="1.2" stroke-dasharray="1.2 3.9"/>
<text class="lg" x="65.1" y="15.8" textLength="30.8" lengthAdjust="spacingAndGlyphs">Data</text>
<text class="lg" x="65.1" y="34.3" textLength="16.4" lengthAdjust="spacingAndGlyphs">Fit</text>
<text class="lg" x="65.4" y="54.2" textLength="35.2" lengthAdjust="spacingAndGlyphs">Y = T</text>
</g>
</g>
<g id="all">
<rect class="ax" x="409" y="384.4" width="266.9" height="253.8"/>
<path class="ax" d="M409 638.2v-2.7M409 384.4v2.7M542.45 638.2v-2.7M542.45 384.4v2.7M675.9 638.2v-2.7M675.9 384.4v2.7M409 638.2h2.7M675.9 638.2h-2.7M409 587.44h2.7M675.9 587.44h-2.7M409 536.68h2.7M675.9 536.68h-2.7M409 485.92h2.7M675.9 485.92h-2.7M409 435.16h2.7M675.9 435.16h-2.7M409 384.4h2.7M675.9 384.4h-2.7"/>
<text class="tk tx" x="409" y="659.9" text-anchor="middle" textLength="9.1" lengthAdjust="spacingAndGlyphs">0</text>
<text class="tk tx" x="542.45" y="659.9" text-anchor="middle" textLength="23.3" lengthAdjust="spacingAndGlyphs">0.5</text>
<text class="tk tx" x="675.9" y="659.9" text-anchor="middle" textLength="9.1" lengthAdjust="spacingAndGlyphs">1</text>
<text class="tk" x="402.3" y="644.6" text-anchor="end" textLength="9.1" lengthAdjust="spacingAndGlyphs">0</text>
<text class="tk" x="402.3" y="593.84" text-anchor="end" textLength="23.3" lengthAdjust="spacingAndGlyphs">0.2</text>
<text class="tk" x="402.3" y="543.08" text-anchor="end" textLength="23.3" lengthAdjust="spacingAndGlyphs">0.4</text>
<text class="tk" x="402.3" y="492.32" text-anchor="end" textLength="23.3" lengthAdjust="spacingAndGlyphs">0.6</text>
<text class="tk" x="402.3" y="441.56" text-anchor="end" textLength="23.3" lengthAdjust="spacingAndGlyphs">0.8</text>
<text class="tk" x="402.3" y="390.8" text-anchor="end" textLength="9.1" lengthAdjust="spacingAndGlyphs">1</text>
<text class="bd tt" x="540.85" y="376" text-anchor="middle" textLength="82.5" lengthAdjust="spacingAndGlyphs">All: R=1</text>
<text class="bd" x="542.75" y="688" text-anchor="middle" textLength="67.5" lengthAdjust="spacingAndGlyphs">Target</text>
<text class="bd" transform="translate(370 511.5) scale(1.05 1) rotate(-90)" text-anchor="middle" textLength="286.2" lengthAdjust="spacingAndGlyphs">Output ~= 1*Target + 1.4e-07</text>
<line x1="409" y1="638.2" x2="675.9" y2="384.4" stroke="#000" stroke-width="1" stroke-dasharray="1 4"/>
<line x1="409" y1="638.2" x2="675.9" y2="384.4" stroke="#666666" stroke-width="4.0"/>
<g class="mk" stroke-width="1.5" style="stroke-width:1.5">
<circle cx="409" cy="638.2" r="4.95"/><circle cx="409.01" cy="638.19" r="4.95"/><circle cx="409.08" cy="638.12" r="4.95"/><circle cx="409.13" cy="638.08" r="4.95"/><circle cx="409.21" cy="638" r="4.95"/><circle cx="409.25" cy="637.97" r="4.95"/><circle cx="409.27" cy="637.95" r="4.95"/><circle cx="409.28" cy="637.93" r="4.95"/><circle cx="409.37" cy="637.85" r="4.95"/><circle cx="409.77" cy="637.46" r="4.95"/><circle cx="409.92" cy="637.32" r="4.95"/><circle cx="410.29" cy="636.97" r="4.95"/><circle cx="410.61" cy="636.67" r="4.95"/><circle cx="410.61" cy="636.67" r="4.95"/><circle cx="410.66" cy="636.62" r="4.95"/><circle cx="410.79" cy="636.49" r="4.95"/><circle cx="410.84" cy="636.45" r="4.95"/><circle cx="411.24" cy="636.07" r="4.95"/><circle cx="411.3" cy="636.01" r="4.95"/><circle cx="411.36" cy="635.96" r="4.95"/><circle cx="411.38" cy="635.93" r="4.95"/><circle cx="411.5" cy="635.82" r="4.95"/><circle cx="411.52" cy="635.8" r="4.95"/><circle cx="411.58" cy="635.75" r="4.95"/><circle cx="411.92" cy="635.42" r="4.95"/><circle cx="412.01" cy="635.34" r="4.95"/><circle cx="412.08" cy="635.27" r="4.95"/><circle cx="412.24" cy="635.12" r="4.95"/><circle cx="412.57" cy="634.81" r="4.95"/><circle cx="412.62" cy="634.76" r="4.95"/><circle cx="412.64" cy="634.74" r="4.95"/><circle cx="412.66" cy="634.72" r="4.95"/><circle cx="412.83" cy="634.56" r="4.95"/><circle cx="413.45" cy="633.97" r="4.95"/><circle cx="413.48" cy="633.94" r="4.95"/><circle cx="413.59" cy="633.84" r="4.95"/><circle cx="413.63" cy="633.8" r="4.95"/><circle cx="413.79" cy="633.65" r="4.95"/><circle cx="413.88" cy="633.56" r="4.95"/><circle cx="414.2" cy="633.25" r="4.95"/><circle cx="414.5" cy="632.97" r="4.95"/><circle cx="414.73" cy="632.75" r="4.95"/><circle cx="414.84" cy="632.65" r="4.95"/><circle cx="415.22" cy="632.29" r="4.95"/><circle cx="415.25" cy="632.26" r="4.95"/><circle cx="415.64" cy="631.89" r="4.95"/><circle cx="415.71" cy="631.82" r="4.95"/><circle cx="415.73" cy="631.8" r="4.95"/><circle cx="416.13" cy="631.42" r="4.95"/><circle cx="416.52" cy="631.05" r="4.95"/><circle cx="416.76" cy="630.82" r="4.95"/><circle cx="417.06" cy="630.53" r="4.95"/><circle cx="417.29" cy="630.32" r="4.95"/><circle cx="417.76" cy="629.87" r="4.95"/><circle cx="417.87" cy="629.76" r="4.95"/><circle cx="418.15" cy="629.5" r="4.95"/><circle cx="418.31" cy="629.35" r="4.95"/><circle cx="418.41" cy="629.25" r="4.95"/><circle cx="418.46" cy="629.2" r="4.95"/><circle cx="418.8" cy="628.88" r="4.95"/><circle cx="418.84" cy="628.84" r="4.95"/><circle cx="419.3" cy="628.41" r="4.95"/><circle cx="419.32" cy="628.39" r="4.95"/><circle cx="419.4" cy="628.31" r="4.95"/><circle cx="419.48" cy="628.24" r="4.95"/><circle cx="419.49" cy="628.22" r="4.95"/><circle cx="419.82" cy="627.91" r="4.95"/><circle cx="419.9" cy="627.84" r="4.95"/><circle cx="420.05" cy="627.69" r="4.95"/><circle cx="420.41" cy="627.35" r="4.95"/><circle cx="420.65" cy="627.13" r="4.95"/><circle cx="420.95" cy="626.84" r="4.95"/><circle cx="421.07" cy="626.72" r="4.95"/><circle cx="421.37" cy="626.44" r="4.95"/><circle cx="421.51" cy="626.3" r="4.95"/><circle cx="422.52" cy="625.34" r="4.95"/><circle cx="422.72" cy="625.16" r="4.95"/><circle cx="422.85" cy="625.03" r="4.95"/><circle cx="423.04" cy="624.85" r="4.95"/><circle cx="423.22" cy="624.67" r="4.95"/><circle cx="423.27" cy="624.63" r="4.95"/><circle cx="423.59" cy="624.33" r="4.95"/><circle cx="423.64" cy="624.27" r="4.95"/><circle cx="423.73" cy="624.19" r="4.95"/><circle cx="423.86" cy="624.07" r="4.95"/><circle cx="424.17" cy="623.77" r="4.95"/><circle cx="424.17" cy="623.77" r="4.95"/><circle cx="424.33" cy="623.62" r="4.95"/><circle cx="424.37" cy="623.59" r="4.95"/><circle cx="424.51" cy="623.45" r="4.95"/><circle cx="424.58" cy="623.39" r="4.95"/><circle cx="424.74" cy="623.23" r="4.95"/><circle cx="424.97" cy="623.02" r="4.95"/><circle cx="425.27" cy="622.73" r="4.95"/><circle cx="425.37" cy="622.63" r="4.95"/><circle cx="425.51" cy="622.5" r="4.95"/><circle cx="425.53" cy="622.48" r="4.95"/><circle cx="425.77" cy="622.26" r="4.95"/><circle cx="426" cy="622.03" r="4.95"/><circle cx="426.06" cy="621.97" r="4.95"/><circle cx="426.11" cy="621.93" r="4.95"/><circle cx="426.19" cy="621.85" r="4.95"/><circle cx="426.21" cy="621.83" r="4.95"/><circle cx="426.29" cy="621.76" r="4.95"/><circle cx="426.36" cy="621.7" r="4.95"/><circle cx="426.68" cy="621.39" r="4.95"/><circle cx="426.91" cy="621.17" r="4.95"/><circle cx="427.07" cy="621.01" r="4.95"/><circle cx="427.27" cy="620.83" r="4.95"/><circle cx="427.28" cy="620.81" r="4.95"/><circle cx="427.37" cy="620.73" r="4.95"/><circle cx="427.37" cy="620.73" r="4.95"/><circle cx="427.43" cy="620.67" r="4.95"/><circle cx="427.56" cy="620.55" r="4.95"/><circle cx="427.62" cy="620.5" r="4.95"/><circle cx="427.64" cy="620.47" r="4.95"/><circle cx="427.77" cy="620.35" r="4.95"/><circle cx="427.9" cy="620.23" r="4.95"/><circle cx="428" cy="620.13" r="4.95"/><circle cx="428.02" cy="620.11" r="4.95"/><circle cx="428.1" cy="620.04" r="4.95"/><circle cx="428.23" cy="619.91" r="4.95"/><circle cx="428.38" cy="619.77" r="4.95"/><circle cx="428.46" cy="619.69" r="4.95"/><circle cx="428.53" cy="619.63" r="4.95"/><circle cx="428.58" cy="619.58" r="4.95"/><circle cx="428.63" cy="619.53" r="4.95"/><circle cx="428.65" cy="619.52" r="4.95"/><circle cx="428.86" cy="619.31" r="4.95"/><circle cx="428.87" cy="619.3" r="4.95"/><circle cx="429.04" cy="619.15" r="4.95"/><circle cx="429.13" cy="619.06" r="4.95"/><circle cx="429.34" cy="618.86" r="4.95"/><circle cx="429.38" cy="618.82" r="4.95"/><circle cx="429.52" cy="618.69" r="4.95"/><circle cx="429.69" cy="618.53" r="4.95"/><circle cx="429.84" cy="618.38" r="4.95"/><circle cx="430.12" cy="618.12" r="4.95"/><circle cx="430.16" cy="618.08" r="4.95"/><circle cx="430.43" cy="617.82" r="4.95"/><circle cx="430.5" cy="617.75" r="4.95"/><circle cx="430.67" cy="617.6" r="4.95"/><circle cx="430.8" cy="617.47" r="4.95"/><circle cx="431.01" cy="617.27" r="4.95"/><circle cx="431.24" cy="617.05" r="4.95"/><circle cx="431.29" cy="617" r="4.95"/><circle cx="431.32" cy="616.97" r="4.95"/><circle cx="431.46" cy="616.84" r="4.95"/><circle cx="431.49" cy="616.81" r="4.95"/><circle cx="431.51" cy="616.8" r="4.95"/><circle cx="431.73" cy="616.59" r="4.95"/><circle cx="431.89" cy="616.44" r="4.95"/><circle cx="432.05" cy="616.29" r="4.95"/><circle cx="432.37" cy="615.98" r="4.95"/><circle cx="432.4" cy="615.95" r="4.95"/><circle cx="432.62" cy="615.73" r="4.95"/><circle cx="433.08" cy="615.3" r="4.95"/><circle cx="433.11" cy="615.27" r="4.95"/><circle cx="433.23" cy="615.15" r="4.95"/><circle cx="433.34" cy="615.05" r="4.95"/><circle cx="433.52" cy="614.88" r="4.95"/><circle cx="433.99" cy="614.43" r="4.95"/><circle cx="434" cy="614.42" r="4.95"/><circle cx="434.07" cy="614.36" r="4.95"/><circle cx="434.28" cy="614.16" r="4.95"/><circle cx="434.41" cy="614.04" r="4.95"/><circle cx="434.43" cy="614.02" r="4.95"/><circle cx="434.98" cy="613.49" r="4.95"/><circle cx="435.36" cy="613.13" r="4.95"/><circle cx="435.37" cy="613.13" r="4.95"/><circle cx="435.67" cy="612.84" r="4.95"/><circle cx="435.67" cy="612.84" r="4.95"/><circle cx="435.75" cy="612.76" r="4.95"/><circle cx="435.93" cy="612.59" r="4.95"/><circle cx="436.52" cy="612.03" r="4.95"/><circle cx="436.56" cy="612" r="4.95"/><circle cx="436.6" cy="611.95" r="4.95"/><circle cx="436.64" cy="611.92" r="4.95"/><circle cx="436.86" cy="611.71" r="4.95"/><circle cx="436.99" cy="611.58" r="4.95"/><circle cx="437.21" cy="611.37" r="4.95"/><circle cx="437.28" cy="611.31" r="4.95"/><circle cx="437.58" cy="611.03" r="4.95"/><circle cx="437.69" cy="610.92" r="4.95"/><circle cx="437.8" cy="610.82" r="4.95"/><circle cx="437.95" cy="610.68" r="4.95"/><circle cx="438.05" cy="610.58" r="4.95"/><circle cx="438.08" cy="610.55" r="4.95"/><circle cx="438.09" cy="610.54" r="4.95"/><circle cx="438.16" cy="610.47" r="4.95"/><circle cx="438.54" cy="610.11" r="4.95"/><circle cx="438.55" cy="610.1" r="4.95"/><circle cx="439.37" cy="609.32" r="4.95"/><circle cx="439.52" cy="609.18" r="4.95"/><circle cx="439.6" cy="609.1" r="4.95"/><circle cx="439.83" cy="608.88" r="4.95"/><circle cx="440.05" cy="608.67" r="4.95"/><circle cx="440.09" cy="608.63" r="4.95"/><circle cx="440.65" cy="608.11" r="4.95"/><circle cx="440.79" cy="607.97" r="4.95"/><circle cx="440.97" cy="607.8" r="4.95"/><circle cx="441.96" cy="606.86" r="4.95"/><circle cx="441.96" cy="606.85" r="4.95"/><circle cx="442.23" cy="606.6" r="4.95"/><circle cx="442.27" cy="606.57" r="4.95"/><circle cx="442.33" cy="606.51" r="4.95"/><circle cx="442.33" cy="606.5" r="4.95"/><circle cx="442.81" cy="606.05" r="4.95"/><circle cx="442.93" cy="605.93" r="4.95"/><circle cx="442.97" cy="605.9" r="4.95"/><circle cx="443.06" cy="605.81" r="4.95"/><circle cx="443.35" cy="605.53" r="4.95"/><circle cx="443.48" cy="605.42" r="4.95"/><circle cx="443.91" cy="605" r="4.95"/><circle cx="443.99" cy="604.93" r="4.95"/><circle cx="444" cy="604.91" r="4.95"/><circle cx="444.09" cy="604.83" r="4.95"/><circle cx="444.13" cy="604.79" r="4.95"/><circle cx="444.14" cy="604.78" r="4.95"/><circle cx="444.41" cy="604.52" r="4.95"/><circle cx="444.94" cy="604.02" r="4.95"/><circle cx="445.17" cy="603.8" r="4.95"/><circle cx="445.35" cy="603.63" r="4.95"/><circle cx="445.48" cy="603.51" r="4.95"/><circle cx="445.52" cy="603.47" r="4.95"/><circle cx="445.65" cy="603.35" r="4.95"/><circle cx="445.75" cy="603.25" r="4.95"/><circle cx="445.84" cy="603.17" r="4.95"/><circle cx="445.85" cy="603.16" r="4.95"/><circle cx="446.17" cy="602.85" r="4.95"/><circle cx="446.19" cy="602.84" r="4.95"/><circle cx="446.22" cy="602.81" r="4.95"/><circle cx="446.29" cy="602.74" r="4.95"/><circle cx="446.32" cy="602.72" r="4.95"/><circle cx="446.33" cy="602.71" r="4.95"/><circle cx="446.61" cy="602.43" r="4.95"/><circle cx="446.78" cy="602.28" r="4.95"/><circle cx="447.19" cy="601.89" r="4.95"/><circle cx="447.62" cy="601.48" r="4.95"/><circle cx="447.72" cy="601.38" r="4.95"/><circle cx="447.74" cy="601.36" r="4.95"/><circle cx="447.75" cy="601.35" r="4.95"/><circle cx="447.77" cy="601.33" r="4.95"/><circle cx="448.12" cy="601" r="4.95"/><circle cx="448.57" cy="600.57" r="4.95"/><circle cx="449.45" cy="599.74" r="4.95"/><circle cx="449.61" cy="599.59" r="4.95"/><circle cx="449.77" cy="599.43" r="4.95"/><circle cx="449.85" cy="599.35" r="4.95"/><circle cx="450.2" cy="599.02" r="4.95"/><circle cx="450.29" cy="598.93" r="4.95"/><circle cx="450.98" cy="598.28" r="4.95"/><circle cx="451.11" cy="598.15" r="4.95"/><circle cx="451.99" cy="597.32" r="4.95"/><circle cx="452.09" cy="597.22" r="4.95"/><circle cx="452.18" cy="597.14" r="4.95"/><circle cx="452.29" cy="597.03" r="4.95"/><circle cx="452.41" cy="596.92" r="4.95"/><circle cx="452.56" cy="596.78" r="4.95"/><circle cx="453.44" cy="595.94" r="4.95"/><circle cx="453.9" cy="595.51" r="4.95"/><circle cx="454.61" cy="594.83" r="4.95"/><circle cx="454.61" cy="594.82" r="4.95"/><circle cx="455.3" cy="594.17" r="4.95"/><circle cx="455.38" cy="594.1" r="4.95"/><circle cx="455.41" cy="594.07" r="4.95"/><circle cx="455.55" cy="593.94" r="4.95"/><circle cx="455.64" cy="593.85" r="4.95"/><circle cx="455.87" cy="593.63" r="4.95"/><circle cx="456.04" cy="593.47" r="4.95"/><circle cx="456.52" cy="593.01" r="4.95"/><circle cx="456.55" cy="592.98" r="4.95"/><circle cx="456.65" cy="592.89" r="4.95"/><circle cx="456.65" cy="592.88" r="4.95"/><circle cx="456.72" cy="592.82" r="4.95"/><circle cx="456.86" cy="592.69" r="4.95"/><circle cx="457.5" cy="592.08" r="4.95"/><circle cx="457.61" cy="591.97" r="4.95"/><circle cx="457.74" cy="591.85" r="4.95"/><circle cx="458.12" cy="591.49" r="4.95"/><circle cx="458.19" cy="591.43" r="4.95"/><circle cx="458.34" cy="591.28" r="4.95"/><circle cx="458.57" cy="591.06" r="4.95"/><circle cx="458.68" cy="590.96" r="4.95"/><circle cx="458.86" cy="590.78" r="4.95"/><circle cx="458.96" cy="590.7" r="4.95"/><circle cx="459.32" cy="590.35" r="4.95"/><circle cx="459.43" cy="590.25" r="4.95"/><circle cx="459.46" cy="590.21" r="4.95"/><circle cx="459.49" cy="590.19" r="4.95"/><circle cx="459.55" cy="590.13" r="4.95"/><circle cx="460.17" cy="589.54" r="4.95"/><circle cx="460.26" cy="589.46" r="4.95"/><circle cx="460.65" cy="589.09" r="4.95"/><circle cx="461" cy="588.75" r="4.95"/><circle cx="461.1" cy="588.66" r="4.95"/><circle cx="461.46" cy="588.32" r="4.95"/><circle cx="461.71" cy="588.07" r="4.95"/><circle cx="461.93" cy="587.86" r="4.95"/><circle cx="461.98" cy="587.82" r="4.95"/><circle cx="462.2" cy="587.61" r="4.95"/><circle cx="462.36" cy="587.46" r="4.95"/><circle cx="462.54" cy="587.29" r="4.95"/><circle cx="462.92" cy="586.93" r="4.95"/><circle cx="463.14" cy="586.71" r="4.95"/><circle cx="463.17" cy="586.69" r="4.95"/><circle cx="463.25" cy="586.61" r="4.95"/><circle cx="463.47" cy="586.4" r="4.95"/><circle cx="463.6" cy="586.28" r="4.95"/><circle cx="463.64" cy="586.24" r="4.95"/><circle cx="463.64" cy="586.24" r="4.95"/><circle cx="463.7" cy="586.19" r="4.95"/><circle cx="463.95" cy="585.95" r="4.95"/><circle cx="464.18" cy="585.73" r="4.95"/><circle cx="464.25" cy="585.66" r="4.95"/><circle cx="464.32" cy="585.59" r="4.95"/><circle cx="464.42" cy="585.5" r="4.95"/><circle cx="464.49" cy="585.44" r="4.95"/><circle cx="464.5" cy="585.42" r="4.95"/><circle cx="464.65" cy="585.29" r="4.95"/><circle cx="464.66" cy="585.27" r="4.95"/><circle cx="464.87" cy="585.08" r="4.95"/><circle cx="465.22" cy="584.74" r="4.95"/><circle cx="465.54" cy="584.43" r="4.95"/><circle cx="465.68" cy="584.3" r="4.95"/><circle cx="465.7" cy="584.28" r="4.95"/><circle cx="466.13" cy="583.87" r="4.95"/><circle cx="466.83" cy="583.21" r="4.95"/><circle cx="466.84" cy="583.2" r="4.95"/><circle cx="467.93" cy="582.16" r="4.95"/><circle cx="467.97" cy="582.12" r="4.95"/><circle cx="468.33" cy="581.78" r="4.95"/><circle cx="468.49" cy="581.63" r="4.95"/><circle cx="469.02" cy="581.13" r="4.95"/><circle cx="469.03" cy="581.12" r="4.95"/><circle cx="469.05" cy="581.1" r="4.95"/><circle cx="469.62" cy="580.56" r="4.95"/><circle cx="469.62" cy="580.55" r="4.95"/><circle cx="469.64" cy="580.54" r="4.95"/><circle cx="469.74" cy="580.44" r="4.95"/><circle cx="469.77" cy="580.41" r="4.95"/><circle cx="469.83" cy="580.36" r="4.95"/><circle cx="470.04" cy="580.16" r="4.95"/><circle cx="470.1" cy="580.1" r="4.95"/><circle cx="470.71" cy="579.52" r="4.95"/><circle cx="470.73" cy="579.5" r="4.95"/><circle cx="470.75" cy="579.48" r="4.95"/><circle cx="470.79" cy="579.44" r="4.95"/><circle cx="471.04" cy="579.21" r="4.95"/><circle cx="471.12" cy="579.13" r="4.95"/><circle cx="471.2" cy="579.06" r="4.95"/><circle cx="471.74" cy="578.54" r="4.95"/><circle cx="472.25" cy="578.06" r="4.95"/><circle cx="472.79" cy="577.54" r="4.95"/><circle cx="473.36" cy="577" r="4.95"/><circle cx="473.53" cy="576.83" r="4.95"/><circle cx="473.99" cy="576.4" r="4.95"/><circle cx="474.32" cy="576.09" r="4.95"/><circle cx="474.32" cy="576.08" r="4.95"/><circle cx="474.34" cy="576.07" r="4.95"/><circle cx="474.37" cy="576.03" r="4.95"/><circle cx="474.57" cy="575.85" r="4.95"/><circle cx="474.6" cy="575.82" r="4.95"/><circle cx="474.94" cy="575.49" r="4.95"/><circle cx="475.01" cy="575.43" r="4.95"/><circle cx="475.07" cy="575.37" r="4.95"/><circle cx="475.22" cy="575.23" r="4.95"/><circle cx="475.32" cy="575.14" r="4.95"/><circle cx="475.37" cy="575.09" r="4.95"/><circle cx="475.4" cy="575.06" r="4.95"/><circle cx="475.43" cy="575.03" r="4.95"/><circle cx="475.65" cy="574.82" r="4.95"/><circle cx="475.98" cy="574.51" r="4.95"/><circle cx="476" cy="574.49" r="4.95"/><circle cx="476.53" cy="573.98" r="4.95"/><circle cx="476.76" cy="573.77" r="4.95"/><circle cx="476.98" cy="573.56" r="4.95"/><circle cx="477.01" cy="573.53" r="4.95"/><circle cx="477.02" cy="573.52" r="4.95"/><circle cx="477.4" cy="573.16" r="4.95"/><circle cx="477.49" cy="573.07" r="4.95"/><circle cx="477.52" cy="573.05" r="4.95"/><circle cx="477.52" cy="573.04" r="4.95"/><circle cx="477.62" cy="572.95" r="4.95"/><circle cx="477.87" cy="572.71" r="4.95"/><circle cx="478.17" cy="572.43" r="4.95"/><circle cx="478.19" cy="572.41" r="4.95"/><circle cx="478.22" cy="572.38" r="4.95"/><circle cx="478.55" cy="572.07" r="4.95"/><circle cx="478.61" cy="572.01" r="4.95"/><circle cx="478.74" cy="571.89" r="4.95"/><circle cx="478.91" cy="571.72" r="4.95"/><circle cx="479.14" cy="571.5" r="4.95"/><circle cx="479.38" cy="571.28" r="4.95"/><circle cx="479.44" cy="571.22" r="4.95"/><circle cx="479.52" cy="571.14" r="4.95"/><circle cx="479.53" cy="571.14" r="4.95"/><circle cx="479.64" cy="571.02" r="4.95"/><circle cx="479.69" cy="570.98" r="4.95"/><circle cx="479.74" cy="570.94" r="4.95"/><circle cx="479.8" cy="570.87" r="4.95"/><circle cx="479.9" cy="570.78" r="4.95"/><circle cx="480.02" cy="570.67" r="4.95"/><circle cx="480.11" cy="570.58" r="4.95"/><circle cx="480.29" cy="570.41" r="4.95"/><circle cx="480.39" cy="570.31" r="4.95"/><circle cx="480.54" cy="570.17" r="4.95"/><circle cx="480.57" cy="570.14" r="4.95"/><circle cx="480.7" cy="570.02" r="4.95"/><circle cx="480.88" cy="569.85" r="4.95"/><circle cx="480.91" cy="569.82" r="4.95"/><circle cx="481.02" cy="569.72" r="4.95"/><circle cx="481.14" cy="569.6" r="4.95"/><circle cx="481.18" cy="569.56" r="4.95"/><circle cx="481.31" cy="569.44" r="4.95"/><circle cx="481.47" cy="569.29" r="4.95"/><circle cx="481.8" cy="568.97" r="4.95"/><circle cx="482.03" cy="568.75" r="4.95"/><circle cx="482.67" cy="568.15" r="4.95"/><circle cx="482.75" cy="568.07" r="4.95"/><circle cx="482.84" cy="567.98" r="4.95"/><circle cx="482.93" cy="567.9" r="4.95"/><circle cx="580.35" cy="475.26" r="4.95"/><circle cx="580.47" cy="475.14" r="4.95"/><circle cx="580.52" cy="475.1" r="4.95"/><circle cx="580.6" cy="475.02" r="4.95"/><circle cx="580.77" cy="474.86" r="4.95"/><circle cx="580.91" cy="474.73" r="4.95"/><circle cx="580.96" cy="474.68" r="4.95"/><circle cx="581.44" cy="474.23" r="4.95"/><circle cx="581.45" cy="474.22" r="4.95"/><circle cx="581.53" cy="474.14" r="4.95"/><circle cx="581.77" cy="473.91" r="4.95"/><circle cx="581.8" cy="473.88" r="4.95"/><circle cx="582.35" cy="473.36" r="4.95"/><circle cx="582.48" cy="473.24" r="4.95"/><circle cx="582.58" cy="473.14" r="4.95"/><circle cx="582.76" cy="472.97" r="4.95"/><circle cx="582.92" cy="472.82" r="4.95"/><circle cx="583.1" cy="472.65" r="4.95"/><circle cx="583.31" cy="472.45" r="4.95"/><circle cx="583.58" cy="472.19" r="4.95"/><circle cx="583.59" cy="472.18" r="4.95"/><circle cx="583.64" cy="472.13" r="4.95"/><circle cx="583.87" cy="471.91" r="4.95"/><circle cx="583.99" cy="471.8" r="4.95"/><circle cx="584.06" cy="471.73" r="4.95"/><circle cx="584.21" cy="471.59" r="4.95"/><circle cx="584.25" cy="471.56" r="4.95"/><circle cx="584.28" cy="471.53" r="4.95"/><circle cx="584.33" cy="471.48" r="4.95"/><circle cx="584.55" cy="471.26" r="4.95"/><circle cx="584.96" cy="470.87" r="4.95"/><circle cx="584.98" cy="470.85" r="4.95"/><circle cx="585.45" cy="470.41" r="4.95"/><circle cx="585.53" cy="470.33" r="4.95"/><circle cx="585.93" cy="469.96" r="4.95"/><circle cx="586.4" cy="469.51" r="4.95"/><circle cx="586.61" cy="469.31" r="4.95"/><circle cx="586.63" cy="469.28" r="4.95"/><circle cx="586.65" cy="469.27" r="4.95"/><circle cx="587.78" cy="468.19" r="4.95"/><circle cx="588.08" cy="467.91" r="4.95"/><circle cx="588.21" cy="467.79" r="4.95"/><circle cx="588.58" cy="467.43" r="4.95"/><circle cx="588.86" cy="467.17" r="4.95"/><circle cx="589.03" cy="467" r="4.95"/><circle cx="589.06" cy="466.98" r="4.95"/><circle cx="589.11" cy="466.93" r="4.95"/><circle cx="589.5" cy="466.56" r="4.95"/><circle cx="589.7" cy="466.37" r="4.95"/><circle cx="589.89" cy="466.19" r="4.95"/><circle cx="590.04" cy="466.05" r="4.95"/><circle cx="590.06" cy="466.03" r="4.95"/><circle cx="590.08" cy="466.01" r="4.95"/><circle cx="590.13" cy="465.96" r="4.95"/><circle cx="590.35" cy="465.76" r="4.95"/><circle cx="590.41" cy="465.69" r="4.95"/><circle cx="590.46" cy="465.65" r="4.95"/><circle cx="590.51" cy="465.6" r="4.95"/><circle cx="590.54" cy="465.57" r="4.95"/><circle cx="590.56" cy="465.55" r="4.95"/><circle cx="590.58" cy="465.53" r="4.95"/><circle cx="590.58" cy="465.53" r="4.95"/><circle cx="590.74" cy="465.38" r="4.95"/><circle cx="590.85" cy="465.27" r="4.95"/><circle cx="591.05" cy="465.09" r="4.95"/><circle cx="591.35" cy="464.8" r="4.95"/><circle cx="591.6" cy="464.56" r="4.95"/><circle cx="591.74" cy="464.43" r="4.95"/><circle cx="591.93" cy="464.25" r="4.95"/><circle cx="592.11" cy="464.08" r="4.95"/><circle cx="592.39" cy="463.81" r="4.95"/><circle cx="592.45" cy="463.75" r="4.95"/><circle cx="592.62" cy="463.59" r="4.95"/><circle cx="592.96" cy="463.26" r="4.95"/><circle cx="593.23" cy="463.02" r="4.95"/><circle cx="593.36" cy="462.89" r="4.95"/><circle cx="593.86" cy="462.42" r="4.95"/><circle cx="593.9" cy="462.38" r="4.95"/><circle cx="593.9" cy="462.37" r="4.95"/><circle cx="593.94" cy="462.33" r="4.95"/><circle cx="594.07" cy="462.22" r="4.95"/><circle cx="594.17" cy="462.12" r="4.95"/><circle cx="594.29" cy="462.01" r="4.95"/><circle cx="594.62" cy="461.69" r="4.95"/><circle cx="594.62" cy="461.69" r="4.95"/><circle cx="595" cy="461.33" r="4.95"/><circle cx="595.12" cy="461.21" r="4.95"/><circle cx="595.19" cy="461.15" r="4.95"/><circle cx="595.25" cy="461.09" r="4.95"/><circle cx="595.52" cy="460.83" r="4.95"/><circle cx="595.66" cy="460.7" r="4.95"/><circle cx="595.73" cy="460.64" r="4.95"/><circle cx="595.76" cy="460.61" r="4.95"/><circle cx="595.88" cy="460.49" r="4.95"/><circle cx="595.99" cy="460.39" r="4.95"/><circle cx="596.13" cy="460.26" r="4.95"/><circle cx="596.47" cy="459.93" r="4.95"/><circle cx="596.55" cy="459.85" r="4.95"/><circle cx="596.63" cy="459.78" r="4.95"/><circle cx="597.04" cy="459.39" r="4.95"/><circle cx="597.24" cy="459.2" r="4.95"/><circle cx="597.51" cy="458.94" r="4.95"/><circle cx="597.75" cy="458.72" r="4.95"/><circle cx="597.83" cy="458.64" r="4.95"/><circle cx="597.98" cy="458.49" r="4.95"/><circle cx="598.04" cy="458.44" r="4.95"/><circle cx="598.43" cy="458.06" r="4.95"/><circle cx="598.46" cy="458.04" r="4.95"/><circle cx="598.65" cy="457.85" r="4.95"/><circle cx="598.86" cy="457.66" r="4.95"/><circle cx="599.1" cy="457.43" r="4.95"/><circle cx="599.19" cy="457.34" r="4.95"/><circle cx="599.21" cy="457.33" r="4.95"/><circle cx="599.38" cy="457.16" r="4.95"/><circle cx="599.41" cy="457.13" r="4.95"/><circle cx="599.65" cy="456.9" r="4.95"/><circle cx="599.79" cy="456.78" r="4.95"/><circle cx="599.79" cy="456.78" r="4.95"/><circle cx="599.81" cy="456.76" r="4.95"/><circle cx="599.84" cy="456.73" r="4.95"/><circle cx="599.86" cy="456.71" r="4.95"/><circle cx="599.94" cy="456.63" r="4.95"/><circle cx="600.01" cy="456.57" r="4.95"/><circle cx="600.04" cy="456.53" r="4.95"/><circle cx="600.08" cy="456.5" r="4.95"/><circle cx="600.26" cy="456.33" r="4.95"/><circle cx="600.6" cy="456" r="4.95"/><circle cx="600.87" cy="455.75" r="4.95"/><circle cx="601.04" cy="455.58" r="4.95"/><circle cx="601.08" cy="455.54" r="4.95"/><circle cx="601.15" cy="455.49" r="4.95"/><circle cx="601.19" cy="455.44" r="4.95"/><circle cx="601.57" cy="455.08" r="4.95"/><circle cx="601.78" cy="454.88" r="4.95"/><circle cx="601.94" cy="454.73" r="4.95"/><circle cx="602.06" cy="454.61" r="4.95"/><circle cx="602.19" cy="454.49" r="4.95"/><circle cx="602.46" cy="454.24" r="4.95"/><circle cx="602.55" cy="454.15" r="4.95"/><circle cx="602.67" cy="454.04" r="4.95"/><circle cx="602.73" cy="453.98" r="4.95"/><circle cx="602.83" cy="453.89" r="4.95"/><circle cx="602.91" cy="453.81" r="4.95"/><circle cx="603.06" cy="453.67" r="4.95"/><circle cx="603.09" cy="453.64" r="4.95"/><circle cx="603.2" cy="453.53" r="4.95"/><circle cx="603.62" cy="453.13" r="4.95"/><circle cx="603.79" cy="452.97" r="4.95"/><circle cx="603.96" cy="452.81" r="4.95"/><circle cx="603.99" cy="452.78" r="4.95"/><circle cx="604.01" cy="452.77" r="4.95"/><circle cx="604.09" cy="452.68" r="4.95"/><circle cx="604.59" cy="452.21" r="4.95"/><circle cx="604.71" cy="452.1" r="4.95"/><circle cx="604.88" cy="451.94" r="4.95"/><circle cx="605.19" cy="451.64" r="4.95"/><circle cx="605.23" cy="451.6" r="4.95"/><circle cx="605.25" cy="451.58" r="4.95"/><circle cx="605.47" cy="451.38" r="4.95"/><circle cx="605.5" cy="451.35" r="4.95"/><circle cx="605.6" cy="451.25" r="4.95"/><circle cx="605.65" cy="451.2" r="4.95"/><circle cx="605.7" cy="451.16" r="4.95"/><circle cx="605.76" cy="451.09" r="4.95"/><circle cx="606.63" cy="450.27" r="4.95"/><circle cx="607.35" cy="449.58" r="4.95"/><circle cx="607.42" cy="449.52" r="4.95"/><circle cx="607.42" cy="449.52" r="4.95"/><circle cx="607.46" cy="449.48" r="4.95"/><circle cx="607.81" cy="449.15" r="4.95"/><circle cx="608.41" cy="448.58" r="4.95"/><circle cx="608.42" cy="448.57" r="4.95"/><circle cx="609.04" cy="447.98" r="4.95"/><circle cx="609.16" cy="447.87" r="4.95"/><circle cx="609.61" cy="447.44" r="4.95"/><circle cx="609.74" cy="447.31" r="4.95"/><circle cx="609.76" cy="447.3" r="4.95"/><circle cx="609.91" cy="447.15" r="4.95"/><circle cx="610.18" cy="446.89" r="4.95"/><circle cx="610.2" cy="446.88" r="4.95"/><circle cx="610.22" cy="446.85" r="4.95"/><circle cx="610.84" cy="446.27" r="4.95"/><circle cx="610.84" cy="446.26" r="4.95"/><circle cx="611" cy="446.11" r="4.95"/><circle cx="611.53" cy="445.61" r="4.95"/><circle cx="611.55" cy="445.59" r="4.95"/><circle cx="611.56" cy="445.58" r="4.95"/><circle cx="611.58" cy="445.56" r="4.95"/><circle cx="611.62" cy="445.53" r="4.95"/><circle cx="611.7" cy="445.45" r="4.95"/><circle cx="611.74" cy="445.41" r="4.95"/><circle cx="612.41" cy="444.78" r="4.95"/><circle cx="613.3" cy="443.93" r="4.95"/><circle cx="613.48" cy="443.75" r="4.95"/><circle cx="613.52" cy="443.71" r="4.95"/><circle cx="613.65" cy="443.6" r="4.95"/><circle cx="613.82" cy="443.43" r="4.95"/><circle cx="613.88" cy="443.38" r="4.95"/><circle cx="614.27" cy="443.01" r="4.95"/><circle cx="614.33" cy="442.95" r="4.95"/><circle cx="614.48" cy="442.81" r="4.95"/><circle cx="614.48" cy="442.81" r="4.95"/><circle cx="614.73" cy="442.57" r="4.95"/><circle cx="614.77" cy="442.53" r="4.95"/><circle cx="615.07" cy="442.24" r="4.95"/><circle cx="615.11" cy="442.21" r="4.95"/><circle cx="615.51" cy="441.82" r="4.95"/><circle cx="615.58" cy="441.76" r="4.95"/><circle cx="615.78" cy="441.57" r="4.95"/><circle cx="615.92" cy="441.44" r="4.95"/><circle cx="615.99" cy="441.37" r="4.95"/><circle cx="616.45" cy="440.93" r="4.95"/><circle cx="616.59" cy="440.8" r="4.95"/><circle cx="617" cy="440.41" r="4.95"/><circle cx="617.06" cy="440.35" r="4.95"/><circle cx="617.41" cy="440.02" r="4.95"/><circle cx="617.46" cy="439.98" r="4.95"/><circle cx="618.02" cy="439.44" r="4.95"/><circle cx="618.05" cy="439.41" r="4.95"/><circle cx="618.12" cy="439.34" r="4.95"/><circle cx="618.19" cy="439.27" r="4.95"/><circle cx="618.48" cy="439.01" r="4.95"/><circle cx="618.55" cy="438.94" r="4.95"/><circle cx="618.69" cy="438.8" r="4.95"/><circle cx="618.76" cy="438.74" r="4.95"/><circle cx="619" cy="438.51" r="4.95"/><circle cx="619.02" cy="438.49" r="4.95"/><circle cx="619.14" cy="438.37" r="4.95"/><circle cx="619.16" cy="438.35" r="4.95"/><circle cx="619.51" cy="438.03" r="4.95"/><circle cx="619.8" cy="437.74" r="4.95"/><circle cx="620.14" cy="437.42" r="4.95"/><circle cx="620.18" cy="437.39" r="4.95"/><circle cx="620.49" cy="437.09" r="4.95"/><circle cx="620.59" cy="436.99" r="4.95"/><circle cx="620.84" cy="436.76" r="4.95"/><circle cx="620.84" cy="436.76" r="4.95"/><circle cx="621.03" cy="436.58" r="4.95"/><circle cx="621.44" cy="436.19" r="4.95"/><circle cx="621.49" cy="436.14" r="4.95"/><circle cx="621.65" cy="435.99" r="4.95"/><circle cx="621.91" cy="435.74" r="4.95"/><circle cx="622.01" cy="435.64" r="4.95"/><circle cx="622.05" cy="435.6" r="4.95"/><circle cx="622.13" cy="435.53" r="4.95"/><circle cx="622.23" cy="435.43" r="4.95"/><circle cx="622.28" cy="435.39" r="4.95"/><circle cx="622.58" cy="435.1" r="4.95"/><circle cx="622.61" cy="435.07" r="4.95"/><circle cx="622.75" cy="434.94" r="4.95"/><circle cx="623.04" cy="434.66" r="4.95"/><circle cx="623.06" cy="434.65" r="4.95"/><circle cx="623.26" cy="434.45" r="4.95"/><circle cx="623.59" cy="434.15" r="4.95"/><circle cx="624.14" cy="433.62" r="4.95"/><circle cx="624.39" cy="433.38" r="4.95"/><circle cx="624.39" cy="433.38" r="4.95"/><circle cx="624.5" cy="433.28" r="4.95"/><circle cx="624.62" cy="433.17" r="4.95"/><circle cx="624.81" cy="432.99" r="4.95"/><circle cx="625.21" cy="432.6" r="4.95"/><circle cx="625.57" cy="432.26" r="4.95"/><circle cx="625.71" cy="432.12" r="4.95"/><circle cx="625.73" cy="432.11" r="4.95"/><circle cx="626.48" cy="431.4" r="4.95"/><circle cx="627.12" cy="430.78" r="4.95"/><circle cx="627.22" cy="430.69" r="4.95"/><circle cx="627.25" cy="430.66" r="4.95"/><circle cx="627.31" cy="430.6" r="4.95"/><circle cx="627.35" cy="430.57" r="4.95"/><circle cx="627.61" cy="430.32" r="4.95"/><circle cx="627.96" cy="429.98" r="4.95"/><circle cx="628.17" cy="429.79" r="4.95"/><circle cx="628.24" cy="429.72" r="4.95"/><circle cx="628.34" cy="429.63" r="4.95"/><circle cx="628.48" cy="429.49" r="4.95"/><circle cx="628.5" cy="429.47" r="4.95"/><circle cx="628.55" cy="429.42" r="4.95"/><circle cx="628.7" cy="429.28" r="4.95"/><circle cx="628.79" cy="429.2" r="4.95"/><circle cx="628.82" cy="429.16" r="4.95"/><circle cx="629.1" cy="428.91" r="4.95"/><circle cx="629.22" cy="428.79" r="4.95"/><circle cx="629.34" cy="428.68" r="4.95"/><circle cx="629.83" cy="428.2" r="4.95"/><circle cx="630.15" cy="427.91" r="4.95"/><circle cx="630.24" cy="427.82" r="4.95"/><circle cx="630.35" cy="427.72" r="4.95"/><circle cx="631.06" cy="427.04" r="4.95"/><circle cx="631.14" cy="426.97" r="4.95"/><circle cx="631.14" cy="426.96" r="4.95"/><circle cx="631.74" cy="426.39" r="4.95"/><circle cx="632.72" cy="425.46" r="4.95"/><circle cx="632.91" cy="425.28" r="4.95"/><circle cx="632.92" cy="425.27" r="4.95"/><circle cx="632.99" cy="425.2" r="4.95"/><circle cx="633.05" cy="425.15" r="4.95"/><circle cx="633.26" cy="424.94" r="4.95"/><circle cx="633.4" cy="424.82" r="4.95"/><circle cx="634.08" cy="424.17" r="4.95"/><circle cx="634.08" cy="424.17" r="4.95"/><circle cx="634.48" cy="423.79" r="4.95"/><circle cx="634.52" cy="423.75" r="4.95"/><circle cx="634.85" cy="423.44" r="4.95"/><circle cx="635.19" cy="423.11" r="4.95"/><circle cx="635.52" cy="422.8" r="4.95"/><circle cx="635.6" cy="422.72" r="4.95"/><circle cx="635.69" cy="422.64" r="4.95"/><circle cx="635.77" cy="422.56" r="4.95"/><circle cx="636.02" cy="422.32" r="4.95"/><circle cx="636.07" cy="422.27" r="4.95"/><circle cx="636.11" cy="422.24" r="4.95"/><circle cx="636.33" cy="422.03" r="4.95"/><circle cx="636.64" cy="421.74" r="4.95"/><circle cx="636.77" cy="421.61" r="4.95"/><circle cx="637.31" cy="421.09" r="4.95"/><circle cx="637.62" cy="420.8" r="4.95"/><circle cx="637.63" cy="420.79" r="4.95"/><circle cx="638.03" cy="420.41" r="4.95"/><circle cx="638.45" cy="420.01" r="4.95"/><circle cx="639.21" cy="419.29" r="4.95"/><circle cx="639.43" cy="419.08" r="4.95"/><circle cx="639.49" cy="419.03" r="4.95"/><circle cx="639.59" cy="418.93" r="4.95"/><circle cx="639.62" cy="418.9" r="4.95"/><circle cx="639.62" cy="418.9" r="4.95"/><circle cx="639.8" cy="418.73" r="4.95"/><circle cx="639.84" cy="418.69" r="4.95"/><circle cx="639.97" cy="418.57" r="4.95"/><circle cx="640.26" cy="418.29" r="4.95"/><circle cx="640.35" cy="418.21" r="4.95"/><circle cx="640.53" cy="418.04" r="4.95"/><circle cx="640.61" cy="417.96" r="4.95"/><circle cx="640.69" cy="417.88" r="4.95"/><circle cx="640.77" cy="417.8" r="4.95"/><circle cx="640.92" cy="417.67" r="4.95"/><circle cx="640.95" cy="417.64" r="4.95"/><circle cx="641.15" cy="417.44" r="4.95"/><circle cx="641.16" cy="417.43" r="4.95"/><circle cx="641.17" cy="417.42" r="4.95"/><circle cx="641.31" cy="417.29" r="4.95"/><circle cx="641.33" cy="417.27" r="4.95"/><circle cx="641.42" cy="417.18" r="4.95"/><circle cx="641.43" cy="417.18" r="4.95"/><circle cx="641.57" cy="417.05" r="4.95"/><circle cx="641.65" cy="416.97" r="4.95"/><circle cx="641.69" cy="416.93" r="4.95"/><circle cx="641.97" cy="416.66" r="4.95"/><circle cx="642.04" cy="416.6" r="4.95"/><circle cx="642.1" cy="416.54" r="4.95"/><circle cx="642.61" cy="416.05" r="4.95"/><circle cx="642.75" cy="415.92" r="4.95"/><circle cx="642.78" cy="415.9" r="4.95"/><circle cx="643.3" cy="415.4" r="4.95"/><circle cx="643.61" cy="415.1" r="4.95"/><circle cx="643.77" cy="414.96" r="4.95"/><circle cx="643.84" cy="414.89" r="4.95"/><circle cx="643.91" cy="414.82" r="4.95"/><circle cx="644.76" cy="414.01" r="4.95"/><circle cx="645.16" cy="413.63" r="4.95"/><circle cx="645.29" cy="413.5" r="4.95"/><circle cx="646.53" cy="412.33" r="4.95"/><circle cx="646.55" cy="412.31" r="4.95"/><circle cx="646.61" cy="412.25" r="4.95"/><circle cx="646.77" cy="412.1" r="4.95"/><circle cx="646.8" cy="412.08" r="4.95"/><circle cx="646.95" cy="411.93" r="4.95"/><circle cx="646.96" cy="411.92" r="4.95"/><circle cx="647.01" cy="411.87" r="4.95"/><circle cx="647.19" cy="411.71" r="4.95"/><circle cx="647.54" cy="411.37" r="4.95"/><circle cx="647.68" cy="411.23" r="4.95"/><circle cx="648.17" cy="410.77" r="4.95"/><circle cx="648.35" cy="410.6" r="4.95"/><circle cx="648.71" cy="410.26" r="4.95"/><circle cx="648.74" cy="410.23" r="4.95"/><circle cx="649.59" cy="409.42" r="4.95"/><circle cx="649.61" cy="409.4" r="4.95"/><circle cx="649.91" cy="409.11" r="4.95"/><circle cx="649.98" cy="409.05" r="4.95"/><circle cx="650.3" cy="408.74" r="4.95"/><circle cx="650.42" cy="408.63" r="4.95"/><circle cx="650.43" cy="408.62" r="4.95"/><circle cx="650.44" cy="408.61" r="4.95"/><circle cx="650.75" cy="408.32" r="4.95"/><circle cx="650.87" cy="408.2" r="4.95"/><circle cx="651.15" cy="407.94" r="4.95"/><circle cx="651.22" cy="407.86" r="4.95"/><circle cx="651.25" cy="407.84" r="4.95"/><circle cx="651.4" cy="407.7" r="4.95"/><circle cx="651.43" cy="407.67" r="4.95"/><circle cx="651.55" cy="407.55" r="4.95"/><circle cx="651.64" cy="407.46" r="4.95"/><circle cx="651.82" cy="407.3" r="4.95"/><circle cx="651.93" cy="407.2" r="4.95"/><circle cx="651.98" cy="407.15" r="4.95"/><circle cx="652.3" cy="406.84" r="4.95"/><circle cx="652.44" cy="406.71" r="4.95"/><circle cx="652.6" cy="406.55" r="4.95"/><circle cx="652.72" cy="406.45" r="4.95"/><circle cx="652.73" cy="406.44" r="4.95"/><circle cx="653.18" cy="406.01" r="4.95"/><circle cx="653.31" cy="405.88" r="4.95"/><circle cx="653.41" cy="405.78" r="4.95"/><circle cx="654.21" cy="405.02" r="4.95"/><circle cx="654.25" cy="404.99" r="4.95"/><circle cx="654.65" cy="404.6" r="4.95"/><circle cx="654.67" cy="404.59" r="4.95"/><circle cx="654.77" cy="404.49" r="4.95"/><circle cx="654.88" cy="404.39" r="4.95"/><circle cx="655.08" cy="404.19" r="4.95"/><circle cx="655.16" cy="404.12" r="4.95"/><circle cx="655.34" cy="403.95" r="4.95"/><circle cx="655.44" cy="403.86" r="4.95"/><circle cx="655.54" cy="403.76" r="4.95"/><circle cx="655.64" cy="403.67" r="4.95"/><circle cx="655.68" cy="403.63" r="4.95"/><circle cx="655.69" cy="403.62" r="4.95"/><circle cx="655.93" cy="403.39" r="4.95"/><circle cx="656.3" cy="403.04" r="4.95"/><circle cx="656.34" cy="403" r="4.95"/><circle cx="656.48" cy="402.87" r="4.95"/><circle cx="656.57" cy="402.78" r="4.95"/><circle cx="657.25" cy="402.13" r="4.95"/><circle cx="657.6" cy="401.8" r="4.95"/><circle cx="657.94" cy="401.48" r="4.95"/><circle cx="658.07" cy="401.36" r="4.95"/><circle cx="658.22" cy="401.21" r="4.95"/><circle cx="658.28" cy="401.15" r="4.95"/><circle cx="658.47" cy="400.98" r="4.95"/><circle cx="658.62" cy="400.84" r="4.95"/><circle cx="658.66" cy="400.79" r="4.95"/><circle cx="658.68" cy="400.77" r="4.95"/><circle cx="658.68" cy="400.77" r="4.95"/><circle cx="658.74" cy="400.72" r="4.95"/><circle cx="659.14" cy="400.34" r="4.95"/><circle cx="659.18" cy="400.3" r="4.95"/><circle cx="659.58" cy="399.92" r="4.95"/><circle cx="659.83" cy="399.68" r="4.95"/><circle cx="660.44" cy="399.1" r="4.95"/><circle cx="660.58" cy="398.96" r="4.95"/><circle cx="660.67" cy="398.89" r="4.95"/><circle cx="660.7" cy="398.86" r="4.95"/><circle cx="660.91" cy="398.66" r="4.95"/><circle cx="660.96" cy="398.6" r="4.95"/><circle cx="661.04" cy="398.53" r="4.95"/><circle cx="661.12" cy="398.45" r="4.95"/><circle cx="661.22" cy="398.36" r="4.95"/><circle cx="661.28" cy="398.3" r="4.95"/><circle cx="661.35" cy="398.24" r="4.95"/><circle cx="661.7" cy="397.9" r="4.95"/><circle cx="662.24" cy="397.39" r="4.95"/><circle cx="662.29" cy="397.35" r="4.95"/><circle cx="662.74" cy="396.92" r="4.95"/><circle cx="662.93" cy="396.73" r="4.95"/><circle cx="663.11" cy="396.56" r="4.95"/><circle cx="663.27" cy="396.41" r="4.95"/><circle cx="663.6" cy="396.1" r="4.95"/><circle cx="663.76" cy="395.94" r="4.95"/><circle cx="664.44" cy="395.3" r="4.95"/><circle cx="664.45" cy="395.29" r="4.95"/><circle cx="664.68" cy="395.07" r="4.95"/><circle cx="664.71" cy="395.05" r="4.95"/><circle cx="664.81" cy="394.94" r="4.95"/><circle cx="664.83" cy="394.92" r="4.95"/><circle cx="664.92" cy="394.84" r="4.95"/><circle cx="665.24" cy="394.54" r="4.95"/><circle cx="665.33" cy="394.45" r="4.95"/><circle cx="665.43" cy="394.36" r="4.95"/><circle cx="665.51" cy="394.28" r="4.95"/><circle cx="665.91" cy="393.9" r="4.95"/><circle cx="665.92" cy="393.89" r="4.95"/><circle cx="666.01" cy="393.8" r="4.95"/><circle cx="666.09" cy="393.73" r="4.95"/><circle cx="666.46" cy="393.38" r="4.95"/><circle cx="666.5" cy="393.34" r="4.95"/><circle cx="666.68" cy="393.17" r="4.95"/><circle cx="666.75" cy="393.1" r="4.95"/><circle cx="667.07" cy="392.8" r="4.95"/><circle cx="667.11" cy="392.76" r="4.95"/><circle cx="667.28" cy="392.6" r="4.95"/><circle cx="667.38" cy="392.51" r="4.95"/><circle cx="667.72" cy="392.18" r="4.95"/><circle cx="667.72" cy="392.18" r="4.95"/><circle cx="667.88" cy="392.03" r="4.95"/><circle cx="668.25" cy="391.68" r="4.95"/><circle cx="668.78" cy="391.17" r="4.95"/><circle cx="668.85" cy="391.11" r="4.95"/><circle cx="669.11" cy="390.86" r="4.95"/><circle cx="669.23" cy="390.74" r="4.95"/><circle cx="669.27" cy="390.71" r="4.95"/><circle cx="669.82" cy="390.18" r="4.95"/><circle cx="669.84" cy="390.16" r="4.95"/><circle cx="669.9" cy="390.11" r="4.95"/><circle cx="670.25" cy="389.77" r="4.95"/><circle cx="670.46" cy="389.57" r="4.95"/><circle cx="670.54" cy="389.5" r="4.95"/><circle cx="670.58" cy="389.46" r="4.95"/><circle cx="670.62" cy="389.42" r="4.95"/><circle cx="670.71" cy="389.33" r="4.95"/><circle cx="671.21" cy="388.86" r="4.95"/><circle cx="671.43" cy="388.65" r="4.95"/><circle cx="671.76" cy="388.34" r="4.95"/><circle cx="672.31" cy="387.82" r="4.95"/><circle cx="672.46" cy="387.67" r="4.95"/><circle cx="672.57" cy="387.57" r="4.95"/><circle cx="672.74" cy="387.41" r="4.95"/><circle cx="673.32" cy="386.86" r="4.95"/><circle cx="673.53" cy="386.66" r="4.95"/><circle cx="673.56" cy="386.62" r="4.95"/><circle cx="673.79" cy="386.41" r="4.95"/><circle cx="673.89" cy="386.31" r="4.95"/><circle cx="674.15" cy="386.06" r="4.95"/><circle cx="674.36" cy="385.87" r="4.95"/><circle cx="674.38" cy="385.85" r="4.95"/><circle cx="674.99" cy="385.26" r="4.95"/><circle cx="675.04" cy="385.22" r="4.95"/><circle cx="675.18" cy="385.09" r="4.95"/><circle cx="675.23" cy="385.04" r="4.95"/><circle cx="675.53" cy="384.75" r="4.95"/><circle cx="675.58" cy="384.71" r="4.95"/><circle cx="675.9" cy="384.4" r="4.95"/>
</g>
<g transform="translate(421.65 398.9)">
<rect class="ax" x="0" y="0" width="107.8" height="60.5" fill="#fff" style="fill:#fff"/>
<circle class="mk" cx="32.6" cy="10.9" r="5.4" style="stroke-width:1.3"/>
<line x1="5.5" y1="30.1" x2="61.2" y2="30.1" stroke="#666666" stroke-width="4.0"/>
<line x1="5.2" y1="49.7" x2="62.4" y2="49.7" stroke="#000" stroke-width="1.2" stroke-dasharray="1.2 3.9"/>
<text class="lg" x="65.1" y="15.8" textLength="30.8" lengthAdjust="spacingAndGlyphs">Data</text>
<text class="lg" x="65.1" y="34.3" textLength="16.4" lengthAdjust="spacingAndGlyphs">Fit</text>
<text class="lg" x="65.4" y="54.2" textLength="35.2" lengthAdjust="spacingAndGlyphs">Y = T</text>
</g>
</g>
</svg>
</body></html>
